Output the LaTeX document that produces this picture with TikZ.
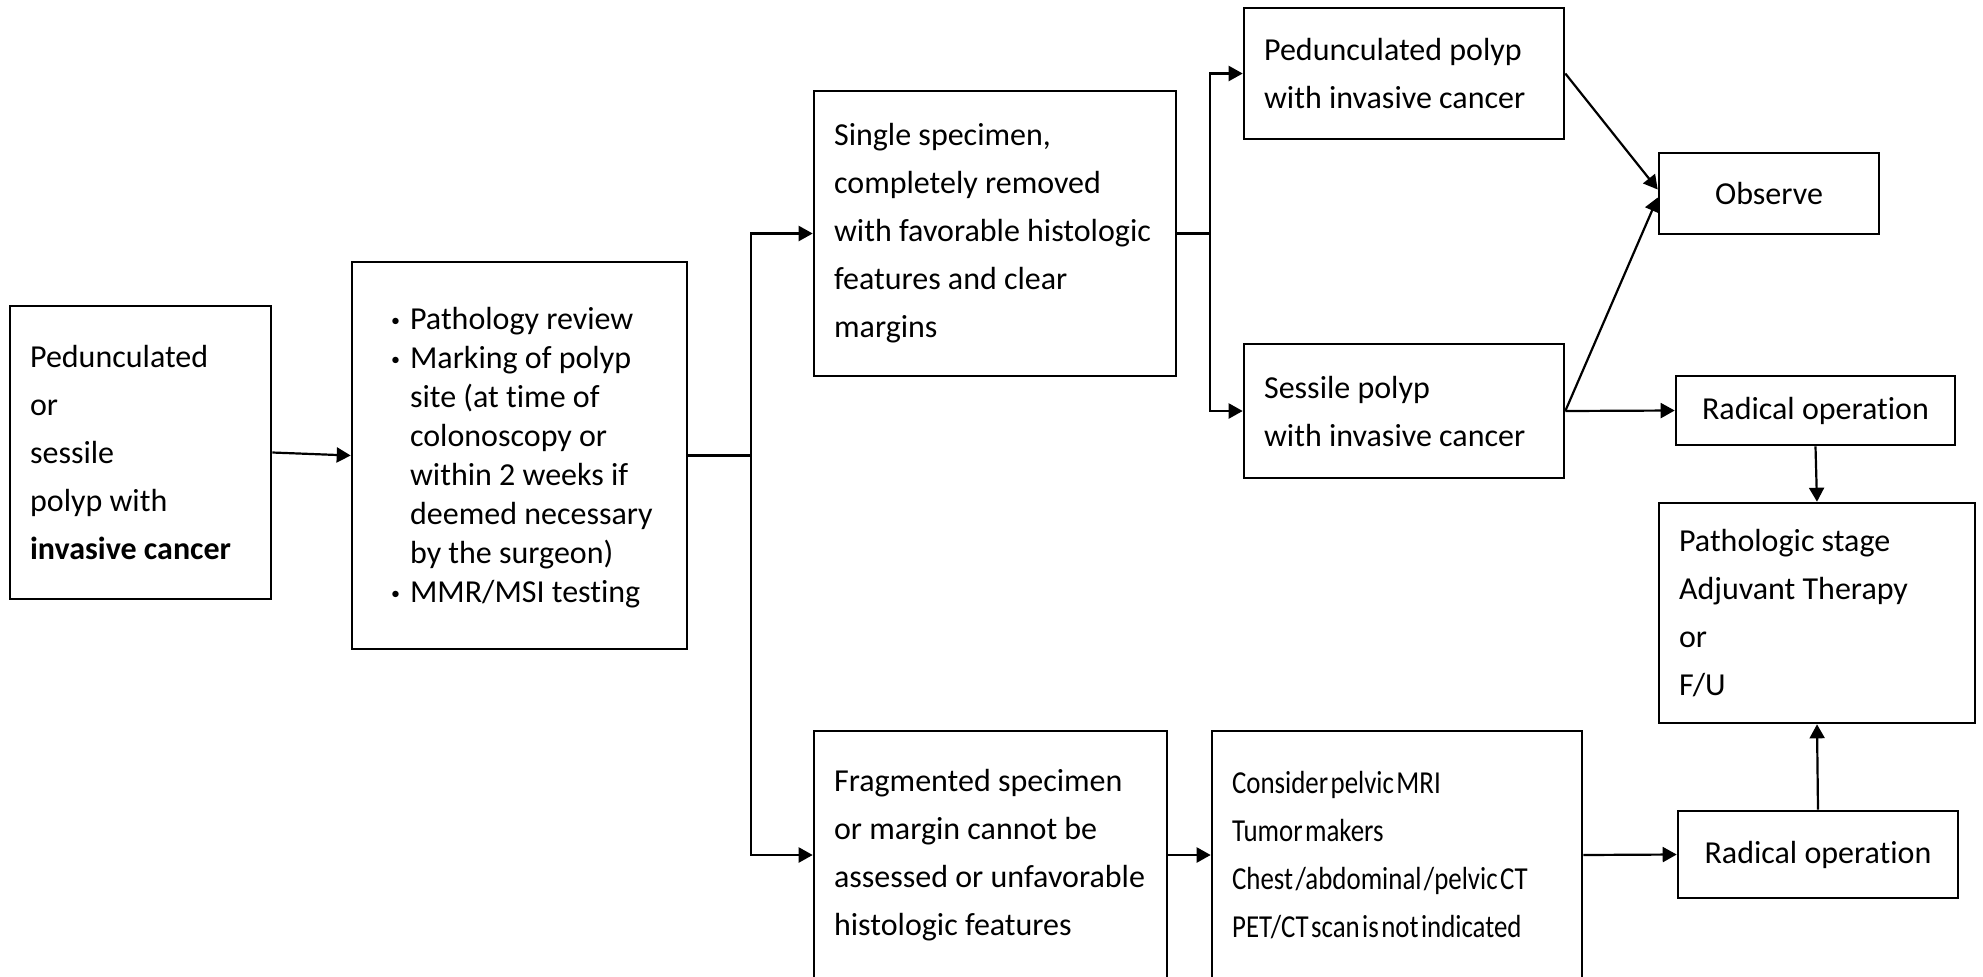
\documentclass[tikz,border=0pt]{standalone}
\usepackage{fontspec}
\setmainfont{Carlito}[Ligatures=NoCommon]
\newfontfamily\condfont[FakeStretch=0.84,WordSpace=0.4,Ligatures=NoCommon]{Carlito}
\usetikzlibrary{arrows.meta}
\tikzset{
  box/.style={draw=black, line width=1.3pt, fill=white, inner sep=0pt},
  txt/.style={align=left, inner sep=0pt, font=\fontsize{16}{24}\selectfont},
  conn/.style={line width=1.1pt, draw=black},
  arr/.style={conn, -{Triangle[length=7pt,width=7.5pt]}},
}
\newcommand{\bul}{\makebox[9.5pt][l]{\raisebox{1.5pt}{\fontsize{9}{9}\selectfont •}}}
\begin{document}
\begin{tikzpicture}[x=0.5pt,y=-0.5pt]
\useasboundingbox (0,0) rectangle (1983,976);
\clip (0,0) rectangle (1983,976);
\fill[white] (0,0) rectangle (1983,976);

% boxes
\node[box, minimum width=130.5pt, minimum height=146.5pt] (n1) at (140.5,452.5) {};
\node[box, minimum width=167.5pt, minimum height=193.5pt] (n2) at (519.5,455.5) {};
\node[box, minimum width=181pt, minimum height=142.5pt] (n3) at (995,233.5) {};
\node[box, minimum width=160pt, minimum height=65.5pt] (n4) at (1404,73.5) {};
\node[box, minimum width=160pt, minimum height=67pt] (n5) at (1404,411) {};
\node[box, minimum width=110pt, minimum height=40.5pt, font=\fontsize{16}{24}\selectfont] (n6) at (1769,193.5) {Observe};
\node[box, minimum width=139.5pt, minimum height=34.5pt, font=\fontsize{16}{24}\selectfont] (n7) at (1815.5,410.5) {Radical operation};
\node[box, minimum width=158pt, minimum height=110pt] (n8) at (1817,613) {};
\node[box, minimum width=176.5pt, minimum height=124pt] (n9) at (990.5,855) {};
\node[box, minimum width=185pt, minimum height=124pt] (n10) at (1397,855) {};
\node[box, minimum width=140pt, minimum height=43.5pt, font=\fontsize{16}{24}\selectfont] (n11) at (1818,854.5) {Radical operation};

% texts
\node[txt, anchor=west] (t1) at ([xshift=10.5pt]n1.west) {Pedunculated\\or\\sessile\\polyp with\\\textbf{invasive cancer}};
\node[txt, anchor=west, font=\fontsize{16}{19.5}\selectfont] (t2) at ([xshift=20pt,yshift=-1pt]n2.west)
 {\bul Pathology review\\
  \bul Marking of polyp\\
  \hspace*{9.5pt}site (at time of\\
  \hspace*{9.5pt}colonoscopy or\\
  \hspace*{9.5pt}within 2 weeks if\\
  \hspace*{9.5pt}deemed necessary\\
  \hspace*{9.5pt}by the surgeon)\\
  \bul MMR/MSI testing};
\node[txt, anchor=west] (t3) at ([xshift=10.5pt]n3.west) {Single specimen,\\completely removed\\with favorable histologic\\features and clear\\margins};
\node[txt, anchor=west] (t4) at ([xshift=10.5pt]n4.west) {Pedunculated polyp\\with invasive cancer};
\node[txt, anchor=west] (t5) at ([xshift=10.5pt]n5.west) {Sessile polyp\\with invasive cancer};
\node[txt, anchor=west] (t8) at ([xshift=10.5pt]n8.west) {Pathologic stage\\Adjuvant Therapy\\or\\F/U};
\node[txt, anchor=west] (t9) at ([xshift=10.5pt]n9.west) {Fragmented specimen\\or margin cannot be\\assessed or unfavorable\\histologic features};
\node[txt, anchor=west, font=\condfont\fontsize{16}{24}\selectfont] (t10) at ([xshift=10.5pt]n10.west) {Consider pelvic MRI\\Tumor makers\\Chest /abdominal /pelvic CT\\PET/CT scan is not indicated};

% connectors
\coordinate (j1) at (751,455.5);
\coordinate (j2) at (1210,233.5);
\draw[arr] (n1.east) -- (n2.west);
\draw[conn] (n2.east) -- (j1);
\draw[arr] (j1) |- (n3.west);
\draw[arr] (j1) |- (n9.west);
\draw[conn] (n3.east) -- (j2);
\draw[arr] (j2) |- (n4.west);
\draw[arr] (j2) |- (n5.west);
\draw[arr] (n4.east) -- ([yshift=2pt]n6.west);
\draw[arr] (n5.east) -- ([yshift=-2pt]n6.west);
\draw[arr] (n5.east) -- (n7.west);
\draw[arr] (n7.south) -- (n8.north);
\draw[arr] (n9.east) -- (n10.west);
\draw[arr] (n10.east) -- (n11.west);
\draw[arr] (n11.north) -- (n8.south);
\end{tikzpicture}
\end{document}
